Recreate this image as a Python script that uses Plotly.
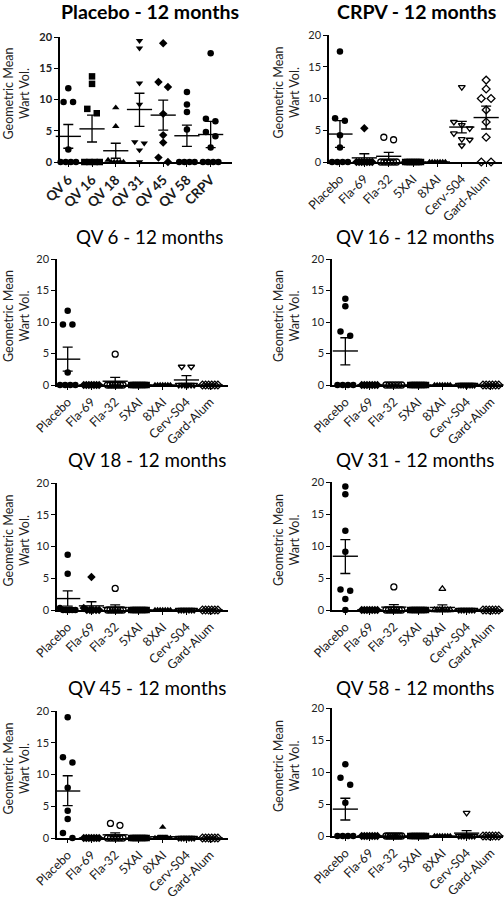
import plotly.graph_objects as go

W, H = 504, 900
FONT = "Lato"

# ---------------- data ----------------
placebo_cats = ["QV 6", "QV 16", "QV 18", "QV 31", "QV 45", "QV 58", "CRPV"]
vaccine_cats = ["Placebo", "Fla-69", "Fla-32", "5XAI", "8XAI", "Cerv-S04", "Gard-Alum"]

# Panel 1: Placebo - 12 months
p1_points = [
    [11.8, 9.6, 9.6, 2.0, 0, 0, 0, 0],
    [13.7, 12.5, 8.5, 7.8, 0, 0, 0, 0],
    [8.7, 5.7, 0.3, 0, 0, 0, 0, 0],
    [19.4, 18.2, 12.6, 9.2, 3.2, 3.0, 1.9, 0],
    [19.0, 12.8, 12.0, 7.7, 4.3, 3.1, 0.7, 0],
    [11.2, 9.2, 8.0, 5.2, 0, 0, 0, 0],
    [17.4, 6.9, 6.5, 4.8, 4.1, 2.3, 0, 0, 0, 0],
]
p1_mean = [4.1, 5.3, 1.8, 8.4, 7.5, 4.2, 4.4]
p1_hi = [6.0, 7.5, 3.0, 11.0, 9.9, 5.9, 6.5]
p1_lo = [2.2, 3.2, 0.6, 5.7, 5.1, 2.5, 2.3]

# Panel 2: CRPV - 12 months
p2_points = [
    [17.4, 6.9, 6.5, 4.2, 2.3, 0, 0, 0, 0],
    [5.3, 0, 0, 0, 0, 0, 0, 0],
    [3.9, 3.5, 0, 0, 0, 0, 0, 0],
    [0, 0, 0, 0, 0, 0, 0, 0],
    [0, 0, 0, 0, 0, 0, 0],
    [11.8, 6.3, 5.8, 5.3, 4.5, 3.6, 3.5, 2.6],
    [12.9, 11.5, 10.0, 10.0, 8.2, 6.3, 3.9, 0, 0],
]
p2_mean = [4.4, 0.65, 0.9, 0, 0, 5.5, 7.0]
p2_hi = [6.5, 1.3, 1.5, 0, 0, 6.4, 8.8]
p2_lo = [2.3, 0.0, 0.3, 0, 0, 4.6, 5.2]

# Panel 3: QV 6 - 12 months
p3_points = [
    [11.8, 9.6, 9.6, 2.0, 0, 0, 0, 0],
    [0, 0, 0, 0, 0, 0, 0],
    [4.9, 0, 0, 0, 0, 0, 0, 0],
    [0, 0, 0, 0, 0, 0, 0, 0],
    [0, 0, 0, 0, 0, 0, 0],
    [2.9, 2.9, 0, 0, 0, 0, 0, 0],
    [0, 0, 0, 0, 0, 0],
]
p3_mean = [4.1, 0, 0.6, 0, 0, 0.8, 0]
p3_hi = [6.0, 0, 1.2, 0, 0, 1.5, 0]
p3_lo = [2.2, 0, 0.0, 0, 0, 0.1, 0]

# Panel 4: QV 16 - 12 months
p4_points = [
    [13.7, 12.5, 8.5, 7.8, 0, 0, 0, 0],
    [0, 0, 0, 0, 0, 0, 0],
    [0, 0, 0, 0, 0, 0],
    [0, 0, 0, 0, 0, 0, 0, 0],
    [0, 0, 0, 0, 0, 0, 0],
    [0, 0, 0, 0, 0, 0, 0, 0],
    [0, 0, 0, 0, 0, 0],
]
p4_mean = [5.4, 0, 0, 0, 0, 0, 0]
p4_hi = [7.5, 0, 0, 0, 0, 0, 0]
p4_lo = [3.2, 0, 0, 0, 0, 0, 0]

# Panel 5: QV 18 - 12 months
p5_points = [
    [8.7, 5.7, 0.3, 0, 0, 0, 0, 0],
    [5.2, 0.3, 0, 0, 0, 0, 0],
    [3.4, 0, 0, 0, 0, 0, 0, 0],
    [0, 0, 0, 0, 0, 0, 0, 0],
    [0, 0, 0, 0, 0, 0, 0],
    [0, 0, 0, 0, 0, 0, 0],
    [0, 0, 0, 0, 0, 0],
]
p5_mean = [1.8, 0.65, 0.4, 0, 0, 0, 0]
p5_hi = [3.0, 1.3, 0.8, 0, 0, 0, 0]
p5_lo = [0.6, 0.0, 0.0, 0, 0, 0, 0]

# Panel 6: QV 31 - 12 months
p6_points = [
    [19.3, 18.1, 12.4, 9.1, 3.2, 3.0, 1.7, 0],
    [0, 0, 0, 0, 0, 0, 0],
    [3.6, 0, 0, 0, 0, 0, 0, 0],
    [0, 0, 0, 0, 0, 0, 0, 0],
    [3.3, 0, 0, 0, 0, 0, 0, 0],
    [0, 0, 0, 0, 0, 0, 0],
    [0, 0, 0, 0, 0, 0],
]
p6_mean = [8.4, 0, 0.45, 0, 0.4, 0, 0]
p6_hi = [11.0, 0, 0.85, 0, 0.8, 0, 0]
p6_lo = [5.7, 0, 0.05, 0, 0.0, 0, 0]

# Panel 7: QV 45 - 12 months
p7_points = [
    [19.0, 12.7, 11.9, 7.9, 4.3, 3.0, 0.8, 0],
    [0, 0, 0, 0, 0, 0, 0],
    [2.3, 2.0, 0, 0, 0, 0, 0, 0],
    [0, 0, 0, 0, 0, 0, 0, 0],
    [1.7, 0, 0, 0, 0, 0, 0, 0],
    [0, 0, 0, 0, 0, 0, 0],
    [0, 0, 0, 0, 0, 0],
]
p7_mean = [7.4, 0, 0.5, 0, 0.2, 0, 0]
p7_hi = [9.8, 0, 0.8, 0, 0.4, 0, 0]
p7_lo = [5.1, 0, 0.2, 0, 0.0, 0, 0]

# Panel 8: QV 58 - 12 months
p8_points = [
    [11.2, 9.1, 8.0, 5.2, 0, 0, 0, 0],
    [0, 0, 0, 0, 0, 0, 0],
    [0, 0, 0, 0, 0, 0, 0, 0],
    [0, 0, 0, 0, 0, 0, 0, 0],
    [0, 0, 0, 0, 0, 0, 0],
    [3.6, 0, 0, 0, 0, 0, 0, 0],
    [0, 0, 0, 0, 0, 0],
]
p8_mean = [4.2, 0, 0, 0, 0, 0.45, 0]
p8_hi = [5.9, 0, 0, 0, 0, 0.85, 0]
p8_lo = [2.5, 0, 0, 0, 0, 0.05, 0]

placebo_symbols = ["circle", "square", "triangle-up", "triangle-down", "diamond", "circle", "circle"]
vaccine_symbols = ["circle", "diamond", "circle-open", "square", "triangle-up",
                   "triangle-down-open", "diamond-open"]
vaccine_symbols_p6 = ["circle", "diamond", "circle-open", "square", "triangle-up-open",
                      "triangle-down-open", "diamond-open"]

# ---------------- layout geometry (pixels) ----------------
panels = [
    dict(title="Placebo - 12 months", cats=placebo_cats, pts=p1_points, mean=p1_mean, hi=p1_hi, lo=p1_lo,
         sym=placebo_symbols, box=(60, 232, 37, 162), xr=(-0.35, 6.9), tx=150, ty=12, bold=True, big=True),
    dict(title="CRPV - 12 months", cats=vaccine_cats, pts=p2_points, mean=p2_mean, hi=p2_hi, lo=p2_lo,
         sym=vaccine_symbols, box=(329, 502, 35, 162), xr=(-0.45, 6.65), tx=416, ty=12, bold=True, big=False),
    dict(title="QV 6 - 12 months", cats=vaccine_cats, pts=p3_points, mean=p3_mean, hi=p3_hi, lo=p3_lo,
         sym=vaccine_symbols, box=(57, 228, 259, 385), xr=(-0.45, 6.75), tx=149, ty=237, bold=False, big=False),
    dict(title="QV 16 - 12 months", cats=vaccine_cats, pts=p4_points, mean=p4_mean, hi=p4_hi, lo=p4_lo,
         sym=vaccine_symbols, box=(332, 503, 259, 385), xr=(-0.55, 6.5), tx=415, ty=237, bold=False, big=False),
    dict(title="QV 18 - 12 months", cats=vaccine_cats, pts=p5_points, mean=p5_mean, hi=p5_hi, lo=p5_lo,
         sym=vaccine_symbols, box=(57, 228, 483, 610), xr=(-0.45, 6.75), tx=147, ty=460, bold=False, big=False),
    dict(title="QV 31 - 12 months", cats=vaccine_cats, pts=p6_points, mean=p6_mean, hi=p6_hi, lo=p6_lo,
         sym=vaccine_symbols_p6, box=(332, 503, 482, 610), xr=(-0.55, 6.5), tx=415, ty=460, bold=False, big=False),
    dict(title="QV 45 - 12 months", cats=vaccine_cats, pts=p7_points, mean=p7_mean, hi=p7_hi, lo=p7_lo,
         sym=vaccine_symbols, box=(57, 228, 711, 838), xr=(-0.45, 6.75), tx=147, ty=687, bold=False, big=False),
    dict(title="QV 58 - 12 months", cats=vaccine_cats, pts=p8_points, mean=p8_mean, hi=p8_hi, lo=p8_lo,
         sym=vaccine_symbols, box=(332, 503, 708, 836), xr=(-0.55, 6.5), tx=415, ty=687, bold=False, big=False),
]


def swarm_offsets(vals, thr=1.15, d=0.4, maxw=0.65):
    order = sorted(range(len(vals)), key=lambda i: -vals[i])
    rows = []
    for i in order:
        if rows and vals[rows[-1][0]] - vals[i] < thr:
            rows[-1].append(i)
        else:
            rows.append([i])
    off = [0.0] * len(vals)
    for row in rows:
        n = len(row)
        step = d if (n - 1) * d <= maxw else maxw / (n - 1)
        for k, i in enumerate(row):
            off[i] = (k - (n - 1) / 2) * step
    return off


fig = go.Figure()
annotations = []
layout_axes = {}

for pi, p in enumerate(panels):
    n = pi + 1
    xa = "x" if n == 1 else f"x{n}"
    ya = "y" if n == 1 else f"y{n}"
    x0, x1, yt, yb = p["box"]
    # points
    for gi, vals in enumerate(p["pts"]):
        offs = swarm_offsets(vals)
        sym = p["sym"][gi]
        is_open = sym.endswith("open")
        fig.add_trace(go.Scatter(
            x=[gi + o for o in offs], y=vals, mode="markers", xaxis=xa, yaxis=ya,
            marker=dict(symbol=sym, size=6.5 if not is_open else 6, color="black",
                        line=dict(color="black", width=1.3 if is_open else 0)),
            cliponaxis=False, showlegend=False, hoverinfo="skip"))
    # mean +/- SEM
    fig.add_trace(go.Scatter(
        x=list(range(len(p["cats"]))), y=p["mean"], mode="markers", xaxis=xa, yaxis=ya,
        marker=dict(symbol="line-ew", size=18, color="black", line=dict(color="black", width=1.4)),
        error_y=dict(type="data", symmetric=False,
                     array=[h - m for h, m in zip(p["hi"], p["mean"])],
                     arrayminus=[m - l for m, l in zip(p["mean"], p["lo"])],
                     color="black", thickness=1.3, width=5),
        cliponaxis=False, showlegend=False, hoverinfo="skip"))

    axkey_x = "xaxis" if n == 1 else f"xaxis{n}"
    axkey_y = "yaxis" if n == 1 else f"yaxis{n}"
    layout_axes[axkey_x] = dict(
        domain=[x0 / W, x1 / W], range=list(p["xr"]), anchor=ya, automargin=False,
        tickmode="array", tickvals=list(range(len(p["cats"]))), ticktext=p["cats"],
        tickangle=-45, showline=True, linecolor="black", linewidth=1.5,
        ticks="outside", ticklen=3, tickcolor="black", tickwidth=1,
        showgrid=False, zeroline=False, fixedrange=True,
        tickfont=dict(family=FONT, size=13.5 if p["big"] else 12.5, color="#1a1a1a",
                      weight="bold" if p["big"] else "normal"))
    layout_axes[axkey_y] = dict(
        domain=[1 - yb / H, 1 - yt / H], range=[0, 20], anchor=xa, automargin=False,
        tickmode="array", tickvals=[0, 5, 10, 15, 20],
        showline=True, linecolor="black", linewidth=1.5,
        ticks="outside", ticklen=4, tickcolor="black", tickwidth=1,
        showgrid=False, zeroline=False, fixedrange=True,
        tickfont=dict(family=FONT, size=11, color="#222",
                      weight="bold" if p["big"] else "normal"))

    title_txt = f"<b>{p['title']}</b>" if p["bold"] else p["title"]
    annotations.append(dict(
        text=title_txt, x=p["tx"] / W, y=1 - p["ty"] / H, xref="paper", yref="paper",
        xanchor="center", yanchor="middle", showarrow=False,
        font=dict(family=FONT, size=19.5 if p["bold"] else 18.8, color="black")))
    ylab_x = 16 if x0 < 200 else 286
    annotations.append(dict(
        text="Geometric Mean<br>Wart Vol.", x=ylab_x / W, y=1 - ((yt + yb) / 2 - 6) / H,
        xref="paper", yref="paper", xanchor="center", yanchor="middle", showarrow=False,
        textangle=-90, font=dict(family=FONT, size=12.5, color="#222")))

fig.update_layout(
    width=W, height=H, margin=dict(l=0, r=0, t=0, b=0, autoexpand=False),
    paper_bgcolor="white", plot_bgcolor="white", showlegend=False,
    annotations=annotations, **layout_axes)

fig.write_html("out.html", config={"displayModeBar": False},
               post_script="document.body.style.margin='0';document.body.style.overflow='hidden';")
